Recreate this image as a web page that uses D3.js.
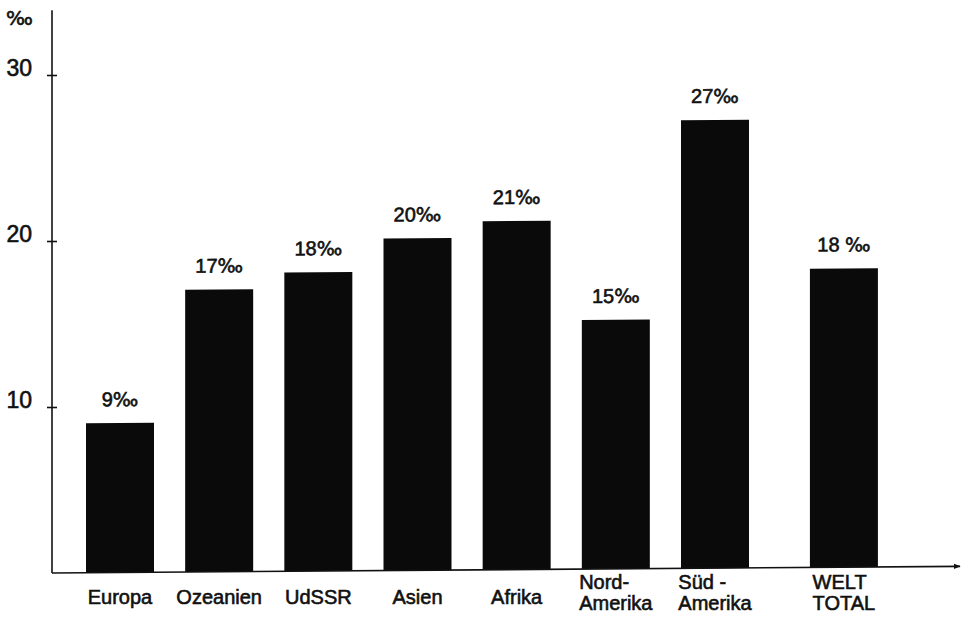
<!DOCTYPE html>
<html>
<head>
<meta charset="utf-8">
<script src="https://cdn.jsdelivr.net/npm/d3@7/dist/d3.min.js"></script>
<style>
  html, body { margin: 0; padding: 0; background: #fff; }
  svg { display: block; }
  text { font-family: "Liberation Sans", Arial, sans-serif; fill: #111; stroke: #111; stroke-width: 0.6px; }
  .permille { font-family: "DejaVu Sans", sans-serif; }
</style>
</head>
<body>
<svg id="chart" width="963" height="617"></svg>
<script>
// Regions and their rates in per mille
const categories = ["Europa", "Ozeanien", "UdSSR", "Asien", "Afrika", "Nord-\nAmerika", "Süd -\nAmerika", "WELT\nTOTAL"];
const values = [9, 17, 18, 20, 21, 15, 27, 18];
const valueLabels = ["9", "17", "18", "20", "21", "15", "27", "18 "];
const unitSign = "‰";
const yTicks = [10, 20, 30];

const svg = d3.select("#chart");
const x0 = 52;        // y-axis position
const barWidth = 68;

const y = d3.scaleLinear().domain([0, 30]).range([573, 75]);
// bar centres: the world total sits a little apart from the regions
const slot = i => i + (i === categories.length - 1 ? 0.3 : 0);
const x = d3.scaleLinear().domain([0, 6]).range([120, 715]);

// slight tilt of the printed baseline
const plot = svg.append("g")
  .attr("transform", `translate(${x0},0) skewY(-0.42) translate(${-x0},0)`);

// bars
plot.selectAll("rect.bar")
  .data(values)
  .join("rect")
  .attr("class", "bar")
  .attr("x", (d, i) => x(slot(i)) - barWidth / 2)
  .attr("width", barWidth)
  .attr("y", d => y(d))
  .attr("height", d => y(0) - y(d))
  .attr("fill", "#0a0a0a");

// value labels above bars
const vl = plot.selectAll("text.val")
  .data(values)
  .join("text")
  .attr("class", "val")
  .attr("x", (d, i) => x(slot(i)))
  .attr("y", d => y(d) - 17)
  .attr("text-anchor", "middle")
  .attr("font-size", 20);
vl.append("tspan").text((d, i) => valueLabels[i]);
vl.append("tspan").attr("class", "permille").attr("font-size", 19).text(unitSign);

// x axis with arrow
svg.append("defs").append("marker")
  .attr("id", "arrow")
  .attr("viewBox", "0 0 10 10")
  .attr("refX", 9).attr("refY", 5)
  .attr("markerWidth", 7).attr("markerHeight", 7)
  .attr("markerUnits", "userSpaceOnUse")
  .attr("orient", "auto")
  .append("path")
  .attr("d", "M0,1 L10,5 L0,9 Z")
  .attr("fill", "#111");

plot.append("line")
  .attr("x1", x0).attr("x2", 960)
  .attr("y1", y(0)).attr("y2", y(0))
  .attr("stroke", "#111")
  .attr("stroke-width", 1.6)
  .attr("marker-end", "url(#arrow)");

// y axis
const yAxis = d3.axisLeft(y).tickValues(yTicks).tickSize(5).tickFormat(d3.format("d"));
const gy = svg.append("g").attr("transform", `translate(${x0},0)`).call(yAxis);
gy.select(".domain").remove();
gy.selectAll(".tick line").attr("x1", 5).attr("x2", -5).attr("stroke", "#111").attr("stroke-width", 1.6);
gy.selectAll(".tick text")
  .attr("x", -20).attr("dy", 0)
  .attr("font-size", 23)
  .attr("font-family", "Liberation Sans, Arial, sans-serif")
  .attr("fill", "#111");

svg.append("line")
  .attr("x1", x0).attr("x2", x0)
  .attr("y1", y(0)).attr("y2", y(33.9))
  .attr("stroke", "#111")
  .attr("stroke-width", 1.6);

// unit
svg.append("text")
  .attr("class", "permille")
  .attr("x", 6).attr("y", 25)
  .attr("font-size", 20)
  .text(unitSign);

// category labels (multi-line labels are left-aligned as a block)
const catG = svg.append("g");
categories.forEach((c, i) => {
  const lines = c.split("\n");
  const cx = x(slot(i));
  if (lines.length === 1) {
    catG.append("text")
      .attr("x", cx).attr("y", 604)
      .attr("text-anchor", "middle")
      .attr("font-size", 20)
      .text(c);
  } else {
    lines.forEach((l, k) => {
      catG.append("text")
        .attr("class", "ml" + i)
        .attr("y", 589 + k * 21)
        .attr("font-size", 20)
        .text(l);
    });
    let w = 0;
    catG.selectAll(".ml" + i).each(function () { w = Math.max(w, this.getComputedTextLength()); });
    catG.selectAll(".ml" + i).attr("x", cx - w / 2);
  }
});
</script>
</body>
</html>
